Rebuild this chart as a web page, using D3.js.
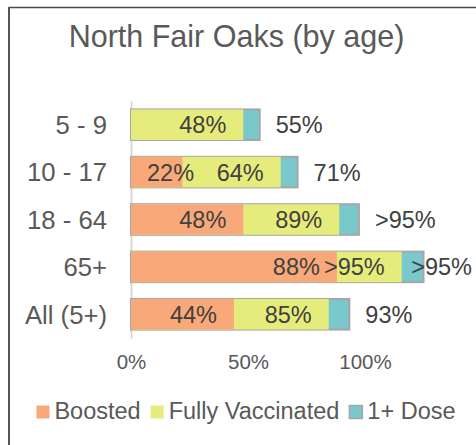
<!DOCTYPE html>
<html>
<head>
<meta charset="utf-8">
<script src="https://cdn.jsdelivr.net/npm/d3@7"></script>
<style>
  html, body { margin: 0; padding: 0; background: #fff; }
  svg { display: block; font-family: "Liberation Sans", Arial, sans-serif; }
</style>
</head>
<body>
<svg id="chart" width="476" height="445"></svg>
<script>
// ---- data ----
const categories = ["5 - 9", "10 - 17", "18 - 64", "65+", "All (5+)"];
const boosted = [0, 0.22, 0.48, 0.88, 0.44];
const fullyVaccinated = [0.48, 0.64, 0.89, 1.157, 0.845];
const oneDose = [0.55, 0.712, 0.974, 1.25, 0.933];
const boostedLabels = ["", "22%", "48%", "88%", "44%"];
const fullyLabels = ["48%", "64%", "89%", ">95%", "85%"];
const doseLabels = ["55%", "71%", ">95%", ">95%", "93%"];
const xTicks = [0, 0.5, 1.0];
const xTickLabels = ["0%", "50%", "100%"];
const seriesNames = ["Boosted", "Fully Vaccinated", "1+ Dose"];
const seriesColors = ["#F9A979", "#E6EC7C", "#78C8CC"];

// ---- layout ----
const svg = d3.select("#chart");
const W = 476, H = 445;

// chart border (cropped frame)
svg.append("line").attr("x1", 9).attr("x2", W).attr("y1", 7.5).attr("y2", 7.5)
  .attr("stroke", "#4a4a4a").attr("stroke-width", 1.5);
svg.append("line").attr("x1", 9).attr("x2", 9).attr("y1", 7).attr("y2", H)
  .attr("stroke", "#555").attr("stroke-width", 2);

// title
svg.append("text").attr("x", 236.5).attr("y", 47)
  .attr("text-anchor", "middle").attr("fill", "#595959")
  .style("font-size", "30.5px").text("North Fair Oaks (by age)");

const x = d3.scaleLinear().domain([0, 1]).range([131, 365]);
const y = d3.scaleBand().domain(categories).range([101, 338])
  .paddingInner(0.355).paddingOuter(0.1775);

// y axis (category labels + light vertical line)
const yAxis = svg.append("g").attr("transform", `translate(${x(0)},0)`)
  .call(d3.axisLeft(y).tickSize(0).tickSizeOuter(0).tickPadding(24));
yAxis.select(".domain").attr("stroke", "#d4d4d4").attr("stroke-width", 1.8);
yAxis.selectAll("text").attr("fill", "#595959")
  .style("font-size", "25.7px").style("font-family", "Liberation Sans, Arial, sans-serif")
  .attr("dy", "0.36em");

// x axis (tick labels only)
const xAxis = svg.append("g").attr("transform", "translate(0,337)")
  .call(d3.axisBottom(x).tickValues(xTicks).tickFormat((d, i) => xTickLabels[i])
    .tickSize(0).tickPadding(17));
xAxis.select(".domain").remove();
xAxis.selectAll("text").attr("fill", "#595959")
  .style("font-size", "20.5px").style("font-family", "Liberation Sans, Arial, sans-serif");

// bars (overlapping, drawn from 0)
const rows = categories.map((c, i) => ({
  c, b: boosted[i], f: fullyVaccinated[i], d: oneDose[i],
  bl: boostedLabels[i], fl: fullyLabels[i], dl: doseLabels[i]
}));

const bars = svg.append("g");
bars.selectAll("rect.dose").data(rows).join("rect").attr("class", "dose")
  .attr("x", x(0)).attr("y", d => y(d.c))
  .attr("width", d => x(d.d) - x(0)).attr("height", y.bandwidth())
  .attr("fill", seriesColors[2]).attr("stroke", "#A6A6A6").attr("stroke-width", 2);
bars.selectAll("rect.fully").data(rows).join("rect").attr("class", "fully")
  .attr("x", x(0)).attr("y", d => y(d.c))
  .attr("width", d => x(d.f) - x(0)).attr("height", y.bandwidth())
  .attr("fill", seriesColors[1]);
bars.selectAll("rect.boost").data(rows.filter(d => d.b > 0)).join("rect").attr("class", "boost")
  .attr("x", x(0)).attr("y", d => y(d.c))
  .attr("width", d => x(d.b) - x(0)).attr("height", y.bandwidth())
  .attr("fill", seriesColors[0]);

// labels
const labelSize = "23.5px";
const labelColor = "#404040";
function insideEnd(val, txt, c) {
  if (!txt) return;
  const t = svg.append("text").attr("fill", labelColor).style("font-size", labelSize)
    .attr("y", y(c) + y.bandwidth() / 2).attr("dy", "0.36em").text(txt);
  const w = t.node().getComputedTextLength();
  let right = x(val) - 17;
  if (right - w < x(0) + 16) right = x(0) + 16 + w;
  t.attr("x", right).attr("text-anchor", "end");
}
rows.forEach(r => {
  insideEnd(r.b, r.bl, r.c);
  insideEnd(r.f, r.fl, r.c);
  const t = svg.append("text").attr("fill", labelColor).style("font-size", labelSize)
    .attr("y", y(r.c) + y.bandwidth() / 2).attr("dy", "0.36em").text(r.dl);
  const w = t.node().getComputedTextLength();
  let left = x(r.d) + 16;
  if (left + w > 472) left = 472 - w;
  t.attr("x", left);
});

// legend
const legend = svg.append("g");
const items = seriesNames.map((n, i) => {
  const g = legend.append("g");
  g.append("rect").attr("width", 13).attr("height", 13).attr("y", 405.5)
    .attr("fill", seriesColors[i])
    .attr("stroke", i === 2 ? "#A6A6A6" : "none").attr("stroke-width", i === 2 ? 1.5 : 0);
  const t = g.append("text").attr("x", 18).attr("y", 419).attr("fill", "#595959")
    .style("font-size", "23.5px").text(n);
  return { g, w: 18 + t.node().getComputedTextLength() };
});
const gap = 10;
const total = d3.sum(items, d => d.w) + gap * (items.length - 1);
let cx = 246 - total / 2;
items.forEach(it => { it.g.attr("transform", `translate(${cx},0)`); cx += it.w + gap; });
</script>
</body>
</html>
